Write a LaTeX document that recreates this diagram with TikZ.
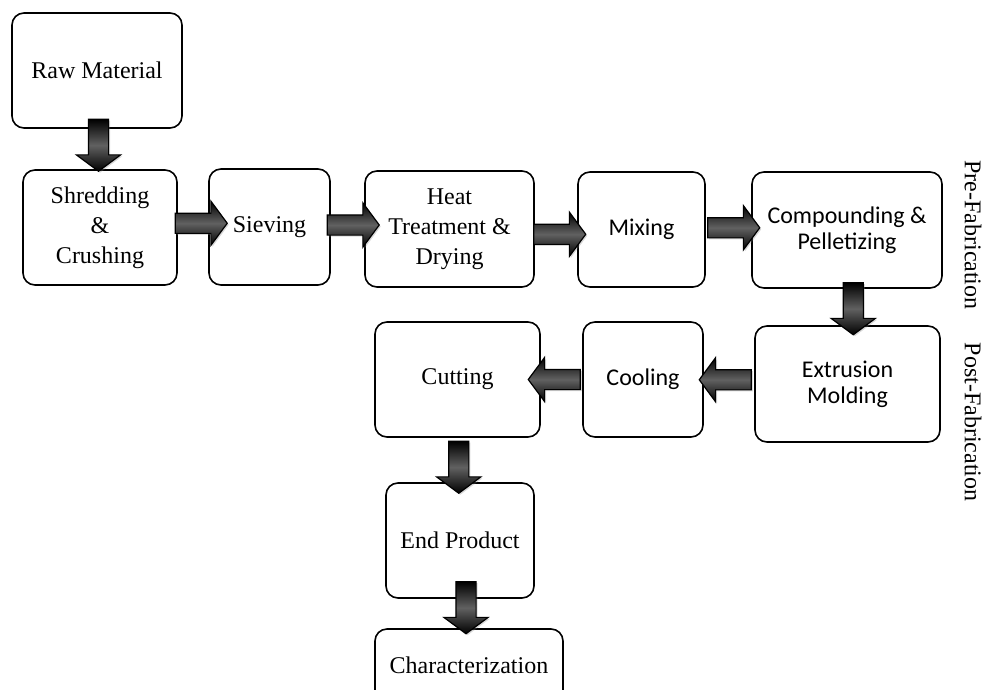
\documentclass[tikz,border=0pt]{standalone}
\usepackage{fontspec}
\setmainfont{Liberation Serif}
\newfontfamily\calfont{Carlito}
\usetikzlibrary{shapes.arrows,shadows}

\begin{document}
\begin{tikzpicture}[x=1pt,y=-1pt,
  box/.style={draw,line width=1.6pt,rounded corners=12pt,align=center,inner sep=0pt,
    font=\fontsize{24}{30}\selectfont},
  sbox/.style={box,font=\calfont\fontsize{24}{26}\selectfont},
  arr/.style={single arrow,draw=black,line width=1.2pt,minimum height=52pt,minimum width=43pt,
    single arrow head extend=12pt,single arrow tip angle=107,inner xsep=0pt,inner ysep=9.5pt,
    shading=axis,top color=black,bottom color=black,middle color=black!62,
    drop shadow={opacity=0.3,shadow xshift=1.5pt,shadow yshift=-1.5pt}},
  side/.style={rotate=-90,font=\fontsize{24}{28}\selectfont}]
\clip (0,0) rectangle (983,689);
\node[box,minimum width=170pt,minimum height=115pt](raw) at(97,70.5){Raw Material};
\node[box,minimum width=154pt,minimum height=115pt](shred) at(100,227.5){Shredding\\\&\\Crushing};
\node[box,minimum width=121pt,minimum height=116pt](siev) at(269.5,227){Sieving};
\node[box,minimum width=169pt,minimum height=116pt](heat) at(449.5,229){Heat\\Treatment \&\\Drying};
\node[sbox,minimum width=127pt,minimum height=115pt](mix) at(641.5,229.5){Mixing};
\node[sbox,minimum width=190pt,minimum height=116pt](comp) at(847,230){Compounding \&\\Pelletizing};
\node[sbox,minimum width=185pt,minimum height=116pt](extr) at(847.5,384){Extrusion\\Molding};
\node[sbox,minimum width=120pt,minimum height=115pt](cool) at(643,379.5){Cooling};
\node[box,minimum width=165pt,minimum height=115pt](cut) at(457.5,379.5){Cutting};
\node[box,minimum width=148pt,minimum height=115pt](endp) at(460,540.5){End Product};
\node[box,minimum width=188pt,minimum height=116pt,text height=17pt,text depth=44pt](char) at(469,687){Characterization};
\node[side](pre) at(973,235){Pre-Fabrication};
\node[side](post) at(973,422){Post-Fabrication};
% block arrows: from/to/angle/xshift/yshift
\foreach \a/\b/\r/\dx/\dy in {raw.south/shred.north/-90/0/7.5,shred.east/siev.west/0/4.5/4,
  siev.east/heat.west/0/2/3,heat.east/mix.west/0/0/-5,mix.east/comp.west/0/1.5/2,
  comp.south/extr.north/-90/6/2,extr.west/cool.east/180/0/2,cool.west/cut.east/180/-3.5/0,
  cut.south/endp.north/-90/0/-3.5,endp.south/char.north/-90/1.5/9.5}
  \path(\a)--(\b)node[midway,xshift=\dx,yshift=\dy,arr,rotate=\r]{};
\end{tikzpicture}
\end{document}
